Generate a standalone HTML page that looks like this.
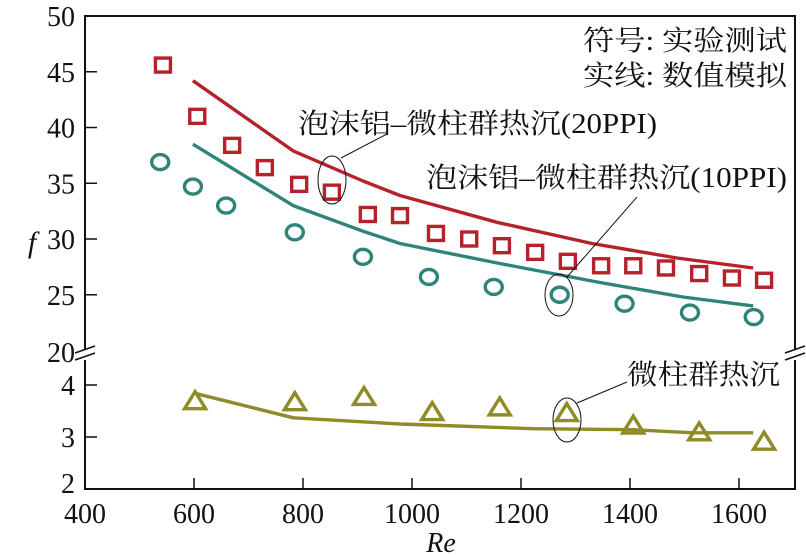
<!DOCTYPE html>
<html><head><meta charset="utf-8">
<style>
html,body{margin:0;padding:0;background:#fff;}
svg{display:block;}
text{font-family:"Liberation Serif","Noto Serif CJK SC","Noto Sans CJK SC",serif;fill:#111;}
</style></head>
<body>
<svg id="chart" width="806" height="555" viewBox="0 0 806 555"></svg>
<script>
const xTicks = [400,600,800,1000,1200,1400,1600];
const yTicksUpper = [20,25,30,35,40,45,50];
const yTicksLower = [2,3,4];
const re20Exp = [543,606,670,730,793,853,919,978,1044,1105,1165,1226,1286,1347,1406,1466,1527,1587,1646];
const f20Exp = [45.6,41.0,38.4,36.4,34.9,34.2,32.2,32.1,30.5,30.0,29.4,28.8,28.0,27.6,27.6,27.4,26.9,26.5,26.3];
const re20Sim = [598,782,910,978,1156,1330,1486,1626];
const f20Sim = [44.2,37.9,35.2,33.9,31.5,29.6,28.3,27.4];
const re10Exp = [538,598,659,785,910,1031,1150,1271,1390,1510,1627];
const f10Exp = [36.9,34.7,33.0,30.6,28.4,26.6,25.7,25.0,24.2,23.4,23.0];
const re10Sim = [598,782,910,978,1161,1345,1497,1626];
const f10Sim = [38.5,33.0,30.7,29.6,27.8,26.1,24.8,24.0];
const reMpExp = [602,785,912,1037,1161,1284,1406,1527,1646];
const fMpExp = [3.68,3.66,3.76,3.47,3.56,3.45,3.21,3.08,2.90];
const reMpSim = [598,782,978,1222,1406,1516,1626];
const fMpSim = [3.85,3.37,3.25,3.16,3.14,3.08,3.08];

const NS='http://www.w3.org/2000/svg';
const svg=document.getElementById('chart');
const L=85,R=795,T=16,B=489;
const xs=v=>L+(v-400)*0.545;
const yU=v=>T+(50-v)*11.15;
const yL=v=>437-(v-3)*52;
function mk(tag,attrs,parent){const e=document.createElementNS(NS,tag);for(const k in attrs)e.setAttribute(k,attrs[k]);(parent||svg).appendChild(e);return e;}

const frame=mk('path',{d:`M${L},${T} H${R} V${B} H${L} Z`,fill:'none',stroke:'#111','stroke-width':2});


const gapL=mk('rect',{x:L-4,y:350,width:8,height:10,fill:'#fff'});


const gapR=mk('rect',{x:R-4,y:350,width:8,height:10,fill:'#fff'});


[[L,'left'],[R,'right']].forEach(([x,s])=>{
  const b=mk('path',{d:`M${x-10},${353} L${x+10},${346} M${x-10},${360} L${x+10},${353}`,stroke:'#111','stroke-width':1.6,fill:'none'});
  
  
});

xTicks.forEach(v=>{
  const x=xs(v);
  if(v>400){const t=mk('line',{x1:x,y1:B,x2:x,y2:B-11,stroke:'#111','stroke-width':1.5});
  
  }
  const lb=mk('text',{x:x,y:B+34,'font-size':28,'text-anchor':'middle'});lb.textContent=v;
  
  
});
yTicksUpper.forEach(v=>{
  const y=(v===20)?352:yU(v);
  if(v!==20&&v!==50){const t=mk('line',{x1:L,y1:y,x2:L+12,y2:y,stroke:'#111','stroke-width':1.5});
  
  }
  const lb=mk('text',{x:L-10,y:y+10,'font-size':28,'text-anchor':'end'});lb.textContent=v;
  
  
});
yTicksLower.forEach(v=>{
  const y=yL(v);
  if(v!==2){const t=mk('line',{x1:L,y1:y,x2:L+12,y2:y,stroke:'#111','stroke-width':1.5});
  
  }
  const lb=mk('text',{x:L-10,y:y+(v===2?4:10),'font-size':28,'text-anchor':'end'});lb.textContent=v;
  
  
});
const xt=mk('text',{x:441,y:552,'font-size':28,'font-style':'italic','text-anchor':'middle'});xt.textContent='Re';


const yt=mk('text',{x:32,y:252,'font-size':30,'font-style':'italic','text-anchor':'middle'});yt.textContent='f';



function line(xsArr,ysArr,fy,color,name){
  const d=xsArr.map((v,i)=>(i?'L':'M')+xs(v).toFixed(1)+','+fy(ysArr[i]).toFixed(1)).join(' ');
  const p=mk('path',{d:d,fill:'none',stroke:color,'stroke-width':3.4,'stroke-linejoin':'round'});
  
  
}
line(re20Sim,f20Sim,yU,'#b5222c','sim-line-20ppi');
line(re10Sim,f10Sim,yU,'#2f8479','sim-line-10ppi');
line(reMpSim,fMpSim,yL,'#8f8b26','sim-line-micropillar');

re20Exp.forEach((v,i)=>{
  const x=xs(v),y=yU(f20Exp[i]);
  const r=mk('rect',{x:x-7.5,y:y-7,width:15,height:14,fill:'none',stroke:'#b5222c','stroke-width':3.4});
  
  
});
re10Exp.forEach((v,i)=>{
  const c=mk('ellipse',{cx:xs(v),cy:yU(f10Exp[i]),rx:8.5,ry:7.5,fill:'none',stroke:'#2f8479','stroke-width':3.4});
  
  
});
reMpExp.forEach((v,i)=>{
  const x=xs(v),y=yL(fMpExp[i]);
  const t=mk('path',{d:`M${x},${y-10} L${x+10.5},${y+7} L${x-10.5},${y+7} Z`,fill:'none',stroke:'#8f8b26','stroke-width':3.4,'stroke-linejoin':'miter'});
  
  
});

function ann(ex,ey,rx,ry,lx1,ly1,lx2,ly2,tx,ty,txt,tl,name){
  const e=mk('ellipse',{cx:ex,cy:ey,rx:rx,ry:ry,fill:'none',stroke:'#111','stroke-width':1});
  
  
  const l=mk('line',{x1:lx1,y1:ly1,x2:lx2,y2:ly2,stroke:'#111','stroke-width':1});
  
  
  const t=mk('text',{x:tx,y:ty,'font-size':28,textLength:tl,lengthAdjust:'spacingAndGlyphs'});t.textContent=txt;
  
  
}
ann(332,180,14,24,341,158,387,134,298,133,'泡沫铝–微柱群热沉(20PPI)',359,'annotation-20ppi');
ann(559,295,14,21,567,277,637,197,426,187,'泡沫铝–微柱群热沉(10PPI)',361,'annotation-10ppi');
ann(567,420,14,22,577,403,627,382,627,384,'微柱群热沉',153,'annotation-micropillar');

const n1=mk('text',{x:583,y:50,'font-size':28,textLength:204,lengthAdjust:'spacingAndGlyphs'});n1.textContent='符号: 实验测试';


const n2=mk('text',{x:583,y:85,'font-size':28,textLength:204,lengthAdjust:'spacingAndGlyphs'});n2.textContent='实线: 数值模拟';


</script>
</body></html>
